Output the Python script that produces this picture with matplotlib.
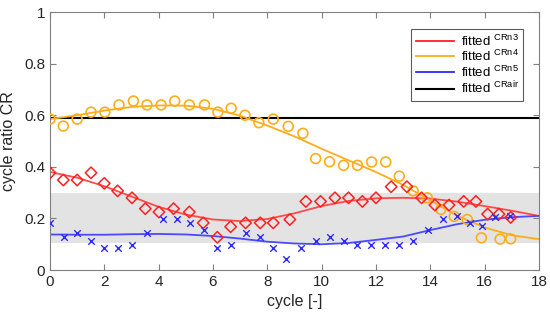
import matplotlib.pyplot as plt
from matplotlib.lines import Line2D

plt.rcParams['font.family'] = ['Liberation Sans', 'DejaVu Sans']

# measured points (cycle, CR)
x_n4 = [0, 0.49, 1.0, 1.51, 2.02, 2.54, 3.07, 3.57, 4.09, 4.59, 5.13, 5.69, 6.18, 6.67, 7.18,
        7.69, 8.22, 8.77, 9.31, 9.78, 10.29, 10.81, 11.32, 11.84, 12.36, 12.86, 13.37, 13.89,
        14.39, 14.88, 15.36, 15.88, 16.57, 16.96]
y_n4 = [0.585, 0.558, 0.585, 0.612, 0.612, 0.64, 0.655, 0.64, 0.64, 0.655, 0.64, 0.64, 0.612,
        0.627, 0.60, 0.571, 0.585, 0.557, 0.53, 0.432, 0.42, 0.406, 0.406, 0.419, 0.419, 0.364,
        0.307, 0.28, 0.235, 0.208, 0.196, 0.125, 0.12, 0.121]

x_n3 = [0, 0.49, 1.0, 1.51, 2.0, 2.49, 3.02, 3.51, 4.01, 4.55, 5.13, 5.64, 6.16, 6.65, 7.2,
        7.74, 8.22, 8.83, 9.42, 9.96, 10.49, 10.99, 11.5, 12.0, 12.56, 13.14, 13.68, 14.17,
        14.69, 15.23, 15.68, 16.11, 16.53, 16.96]
y_n3 = [0.377, 0.349, 0.349, 0.377, 0.336, 0.307, 0.28, 0.238, 0.225, 0.238, 0.225, 0.183,
        0.127, 0.168, 0.183, 0.183, 0.183, 0.196, 0.266, 0.266, 0.28, 0.28, 0.266, 0.28, 0.323,
        0.323, 0.28, 0.252, 0.252, 0.266, 0.266, 0.217, 0.217, 0.204]

x_n5 = [0, 0.52, 1.0, 1.51, 2.0, 2.49, 3.02, 3.58, 4.15, 4.66, 5.15, 5.67, 6.16, 6.67, 7.2,
        7.72, 8.2, 8.69, 9.24, 9.79, 10.31, 10.81, 11.29, 11.81, 12.34, 12.84, 13.36, 13.92,
        14.48, 14.97, 15.46, 15.91, 16.4, 16.93]
y_n5 = [0.183, 0.127, 0.142, 0.112, 0.084, 0.084, 0.098, 0.142, 0.196, 0.196, 0.183, 0.155,
        0.084, 0.098, 0.142, 0.127, 0.084, 0.043, 0.084, 0.112, 0.127, 0.112, 0.098, 0.098,
        0.098, 0.098, 0.112, 0.155, 0.196, 0.21, 0.183, 0.169, 0.204, 0.21]

# fitted curves read at each cycle
x_fit = list(range(0, 19))
fit_n3 = [0.38, 0.358, 0.325, 0.285, 0.245, 0.215, 0.196, 0.19, 0.198, 0.22, 0.248, 0.268,
          0.278, 0.28, 0.277, 0.265, 0.248, 0.23, 0.21]
fit_n4 = [0.585, 0.60, 0.618, 0.632, 0.638, 0.637, 0.625, 0.598, 0.56, 0.518, 0.47, 0.425,
          0.38, 0.33, 0.27, 0.21, 0.165, 0.135, 0.12]
fit_n5 = [0.138, 0.137, 0.137, 0.139, 0.14, 0.138, 0.132, 0.122, 0.11, 0.103, 0.10, 0.105,
          0.117, 0.13, 0.155, 0.178, 0.195, 0.205, 0.21]
fit_air = [0.588] * 19

band = (0.105, 0.3)

fig = plt.figure(figsize=(5.5, 3.2), dpi=100)
ax = fig.add_axes([0.0909, 0.156, 0.889, 0.8065])

ax.axhspan(band[0], band[1], color='#e3e3e3', lw=0, zorder=0)

ax.plot(x_fit, fit_air, color='black', lw=1.5, zorder=2)
ax.plot(x_fit, fit_n3, color='#ff4a4a', lw=1.3, zorder=2)
ax.plot(x_fit, fit_n4, color='#ffad1a', lw=1.3, zorder=2)
ax.plot(x_fit, fit_n5, color='#4a4aff', lw=1.3, zorder=2)

ax.scatter(x_n4, y_n4, s=50, marker='o', facecolors='none', edgecolors='#ffad1a', lw=1.2, zorder=3)
ax.scatter(x_n3, y_n3, s=34, marker='D', facecolors='none', edgecolors='#ff2020', lw=1.1, zorder=3)
ax.scatter(x_n5, y_n5, s=22, marker='x', color='#2a2aff', lw=1.0, zorder=3)

ax.set_xlim(0, 18)
ax.set_ylim(0, 1)
ax.set_xticks(range(0, 19, 2))
ax.set_yticks([0, 0.2, 0.4, 0.6, 0.8, 1])
ax.set_yticklabels(['0', '0.2', '0.4', '0.6', '0.8', '1'])
ax.tick_params(direction='in', top=True, right=True, length=4, width=0.8,
               color='#808080', labelsize=11, labelcolor='#262626')
for s in ax.spines.values():
    s.set_color('#808080')
    s.set_linewidth(0.8)

ax.set_xlabel('cycle [-]', fontsize=11.5, color='#262626', labelpad=4)
ax.set_ylabel('cycle ratio CR', fontsize=11.5, color='#262626', labelpad=6)

handles = [Line2D([], [], color='#ff2020', lw=1.3),
           Line2D([], [], color='#ffad1a', lw=1.3),
           Line2D([], [], color='#2a2aff', lw=1.3),
           Line2D([], [], color='black', lw=1.5)]
labels = ['fitted $^{\\mathregular{CRn3}}$', 'fitted $^{\\mathregular{CRn4}}$',
          'fitted $^{\\mathregular{CRn5}}$', 'fitted $^{\\mathregular{CRair}}$']
leg = ax.legend(handles, labels, loc='upper right', bbox_to_anchor=(0.968, 0.935),
                fontsize=9.5, frameon=True, fancybox=False, handlelength=2.9,
                handletextpad=0.5, labelspacing=0.02, borderpad=0.35, borderaxespad=0)
leg.get_frame().set_edgecolor('#333333')
leg.get_frame().set_linewidth(0.8)

fig.savefig('out.png', dpi=100)
